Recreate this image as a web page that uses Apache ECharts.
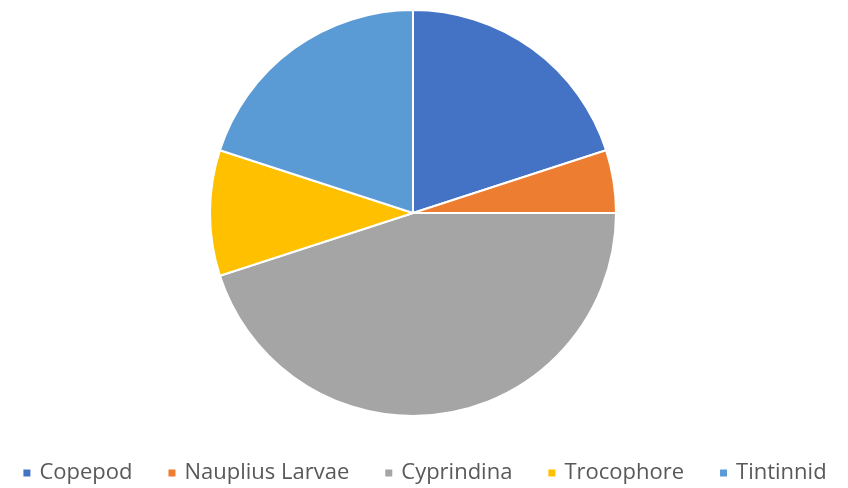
<!DOCTYPE html>
<html lang="en">
<head>
    <meta charset="UTF-8">
    <title>Plankton pie</title>
    <style>
        * { margin: 0; padding: 0; }
        html, body, #chart { width: 848px; height: 488px; overflow: hidden; background: #fff; }
    </style>
</head>
<body>
    <div id="chart"></div>
    <script src="https://cdn.jsdelivr.net/npm/echarts@6/dist/echarts.min.js"></script>
    <script>
        // data (percent)
        const categories = ['Copepod', 'Nauplius Larvae', 'Cyprindina', 'Trocophore', 'Tintinnid'];
        const values = [20, 5, 45, 10, 20];
        const colors = ['#4472C4', '#ED7D31', '#A5A5A5', '#FFC000', '#5B9BD5'];

        let chart = echarts.init(document.getElementById('chart'));
        let option = {
            animation: false,
            color: colors,
            legend: {
                top: 462,
                left: 'center',
                padding: 0,
                icon: 'rect',
                itemWidth: 9,
                itemHeight: 9,
                itemGap: 34,
                textStyle: {
                    color: '#595959',
                    fontSize: 22,
                    lineHeight: 22,
                    fontFamily: 'Open Sans',
                    padding: [0, 0, 0, 3]
                },
                data: categories
            },
            series: [{
                type: 'pie',
                center: [413, 213],
                radius: 203,
                startAngle: 90,
                clockwise: true,
                label: { show: false },
                labelLine: { show: false },
                itemStyle: { borderColor: '#fff', borderWidth: 2 },
                data: categories.map((name, i) => ({ name: name, value: values[i] }))
            }]
        };
        chart.setOption(option);
    </script>
</body>
</html>
